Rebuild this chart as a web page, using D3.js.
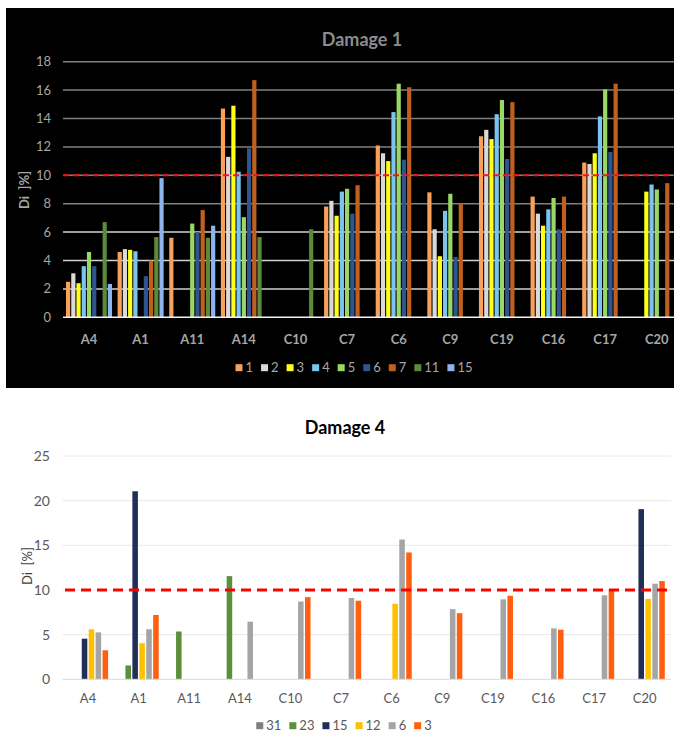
<!DOCTYPE html>
<html>
<head>
<meta charset="utf-8">
<script src="https://cdn.jsdelivr.net/npm/d3@7"></script>
<style>
  body { margin: 0; background: #fff; }
  svg { display: block; font-family: Lato, "Open Sans", sans-serif; }
</style>
</head>
<body>
<svg id="chart" width="674" height="734"></svg>
<script>
// ---------- data ----------
const categories = ["A4", "A1", "A11", "A14", "C10", "C7", "C6", "C9", "C19", "C16", "C17", "C20"];

// Damage 1 (top)
const series1 = ["1", "2", "3", "4", "5", "6", "7", "11", "15"];
const d1_s1  = [2.5, 4.6, 5.6, 14.7, null, 7.8, 12.1, 8.8, 12.75, 8.5, 10.9, null];
const d1_s2  = [3.1, 4.8, null, 11.3, null, 8.2, 11.55, 6.2, 13.2, 7.3, 10.8, null];
const d1_s3  = [2.4, 4.75, null, 14.9, null, 7.15, 11.0, 4.3, 12.55, 6.45, 11.55, 8.85];
const d1_s4  = [3.6, 4.65, null, 10.25, null, 8.85, 14.45, 7.5, 14.3, 7.6, 14.15, 9.35];
const d1_s5  = [4.6, null, 6.6, 7.05, null, 9.05, 16.45, 8.7, 15.3, 8.4, 16.05, 9.0];
const d1_s6  = [3.6, 2.9, 6.0, 11.9, null, 7.3, 11.1, 4.25, 11.15, 6.2, 11.65, null];
const d1_s7  = [null, 4.0, 7.55, 16.7, null, 9.3, 16.2, 8.0, 15.15, 8.5, 16.45, 9.45];
const d1_s11 = [6.7, 5.65, 5.6, 5.65, 6.2, null, null, null, null, null, null, null];
const d1_s15 = [2.35, 9.8, 6.45, null, null, null, null, null, null, null, null, null];
const damage1 = [d1_s1, d1_s2, d1_s3, d1_s4, d1_s5, d1_s6, d1_s7, d1_s11, d1_s15];
const colors1 = ["#f9a15a", "#d9d9d9", "#ffff1a", "#7cc4f0", "#9ad866", "#2e5590", "#c0601f", "#5a8a3a", "#8db4ec"];
const ticks1 = [0, 2, 4, 6, 8, 10, 12, 14, 16, 18];

// Damage 4 (bottom)
const series4 = ["31", "23", "15", "12", "6", "3"];
const d4_s31 = [null, null, null, null, null, null, null, null, null, null, null, null];
const d4_s23 = [null, 1.55, 5.35, 11.55, null, null, null, null, null, null, null, null];
const d4_s15 = [4.55, 21.05, null, null, null, null, null, null, null, null, null, 19.05];
const d4_s12 = [5.6, 4.05, null, null, null, null, 8.45, null, null, null, null, 9.0];
const d4_s6  = [5.25, 5.6, null, 6.45, 8.7, 9.1, 15.65, 7.85, 8.95, 5.7, 9.4, 10.7];
const d4_s3  = [3.25, 7.2, null, null, 9.2, 8.8, 14.2, 7.4, 9.35, 5.55, 10.05, 11.0];
const damage4 = [d4_s31, d4_s23, d4_s15, d4_s12, d4_s6, d4_s3];
const colors4 = ["#7f7f7f", "#5b8f3a", "#1f2f5a", "#ffc000", "#a5a5a5", "#ff5f0f"];
const ticks4 = [0, 5, 10, 15, 20, 25];

const limitValue = 10;

const svg = d3.select("#chart");

// ---------- top chart: Damage 1 ----------
function drawTop(){
    svg.append("rect")
        .attr("x", 6).attr("y", 8)
        .attr("width", 668).attr("height", 380)
        .attr("fill", "#000");

    const y = d3.scaleLinear().domain([0, 18]).range([317.3, 61.7]);
    const x0 = d3.scaleBand().domain(categories).range([63.2, 682.6]);
    const groupW = 46;
    const x1 = d3.scaleBand().domain(series1).range([0, groupW]).paddingInner(0.2);

    // gridlines
    svg.append("g").selectAll("line")
        .data(ticks1.filter(t => t > 0))
        .enter().append("line")
        .attr("x1", 63).attr("x2", 674)
        .attr("y1", t => y(t)).attr("y2", t => y(t))
        .attr("stroke", t => t >= 8 ? "#7f7f7f" : "#d0d0d0")
        .attr("stroke-width", 1.5);

    // y tick labels
    svg.append("g").selectAll("text")
        .data(ticks1)
        .enter().append("text")
        .attr("x", 51).attr("y", t => y(t))
        .attr("dy", "0.35em")
        .attr("text-anchor", "end")
        .attr("fill", "#a6a6a6")
        .attr("font-size", 13)
        .text(t => t);

    // bars
    series1.forEach((s, i) => {
        svg.append("g").selectAll("rect")
            .data(damage1[i].map((v, j) => ({cat: categories[j], v: v})).filter(d => d.v != null))
            .enter().append("rect")
            .attr("x", d => x0(d.cat) + (x0.bandwidth() - groupW) / 2 + x1(s))
            .attr("width", x1.bandwidth())
            .attr("y", d => y(d.v))
            .attr("height", d => y(0) - y(d.v))
            .attr("fill", colors1[i]);
    });

    // baseline
    svg.append("line")
        .attr("x1", 63).attr("x2", 674)
        .attr("y1", y(0)).attr("y2", y(0))
        .attr("stroke", "#f2f2f2").attr("stroke-width", 1.5);

    // 10% limit
    svg.append("line")
        .attr("x1", 63).attr("x2", 674)
        .attr("y1", y(limitValue)).attr("y2", y(limitValue))
        .attr("stroke", "#ff1010").attr("stroke-width", 2)
        .attr("stroke-dasharray", "6,4");

    // category labels
    svg.append("g").selectAll("text")
        .data(categories)
        .enter().append("text")
        .attr("x", c => x0(c) + x0.bandwidth() / 2)
        .attr("y", 339).attr("dy", "0.35em")
        .attr("text-anchor", "middle")
        .attr("fill", "#a6a6a6")
        .attr("font-size", 13).attr("font-weight", "bold")
        .text(c => c);

    svg.append("text")
        .attr("x", 362).attr("y", 46)
        .attr("text-anchor", "middle")
        .attr("fill", "#8c8c8c")
        .attr("font-size", 18).attr("font-weight", "bold")
        .text("Damage 1");

    svg.append("text")
        .attr("transform", "translate(29,190) rotate(-90)")
        .attr("text-anchor", "middle")
        .attr("fill", "#a6a6a6")
        .attr("font-size", 13).attr("font-weight", "bold")
        .attr("xml:space", "preserve")
        .text("Di  ]%]");

    drawLegend(series1, colors1, 354, 367.7, "#a6a6a6", 13, 7);
}

// ---------- bottom chart: Damage 4 ----------
function drawBottom(){
    const y = d3.scaleLinear().domain([0, 25]).range([679.3, 456]);
    const x0 = d3.scaleBand().domain(categories).range([62.7, 670]);
    const groupW = 40.2;
    const x1 = d3.scaleBand().domain(series4).range([0, groupW]).paddingInner(0.2);

    svg.append("g").selectAll("line")
        .data(ticks4.filter(t => t > 0))
        .enter().append("line")
        .attr("x1", 62.7).attr("x2", 671)
        .attr("y1", t => y(t)).attr("y2", t => y(t))
        .attr("stroke", "#e8e8e8")
        .attr("stroke-width", 1);

    svg.append("g").selectAll("text")
        .data(ticks4)
        .enter().append("text")
        .attr("x", 50).attr("y", t => y(t))
        .attr("dy", "0.35em")
        .attr("text-anchor", "end")
        .attr("fill", "#595959")
        .attr("font-size", 14)
        .text(t => t);

    series4.forEach((s, i) => {
        svg.append("g").selectAll("rect")
            .data(damage4[i].map((v, j) => ({cat: categories[j], v: v})).filter(d => d.v != null))
            .enter().append("rect")
            .attr("x", d => x0(d.cat) + (x0.bandwidth() - groupW) / 2 + x1(s))
            .attr("width", x1.bandwidth())
            .attr("y", d => y(d.v))
            .attr("height", d => y(0) - y(d.v))
            .attr("fill", colors4[i]);
    });

    svg.append("line")
        .attr("x1", 62.7).attr("x2", 671)
        .attr("y1", y(0)).attr("y2", y(0))
        .attr("stroke", "#d9d9d9").attr("stroke-width", 1);

    svg.append("line")
        .attr("x1", 65).attr("x2", 671)
        .attr("y1", y(limitValue)).attr("y2", y(limitValue))
        .attr("stroke", "#ff0000").attr("stroke-width", 3)
        .attr("stroke-dasharray", "10,6");

    svg.append("g").selectAll("text")
        .data(categories)
        .enter().append("text")
        .attr("x", c => x0(c) + x0.bandwidth() / 2)
        .attr("y", 698).attr("dy", "0.35em")
        .attr("text-anchor", "middle")
        .attr("fill", "#595959")
        .attr("font-size", 13)
        .text(c => c);

    svg.append("text")
        .attr("x", 345).attr("y", 434)
        .attr("text-anchor", "middle")
        .attr("fill", "#000")
        .attr("font-size", 18).attr("font-weight", "bold")
        .text("Damage 4");

    svg.append("text")
        .attr("transform", "translate(32,566) rotate(-90)")
        .attr("text-anchor", "middle")
        .attr("fill", "#404040")
        .attr("font-size", 13)
        .attr("xml:space", "preserve")
        .text("Di  [%]");

    drawLegend(series4, colors4, 344, 725.7, "#595959", 13, 7);
}

function drawLegend(names, colors, cx, cy, textColor, fontSize, sq){
    const g = svg.append("g");
    let x = 0;
    names.forEach((n, i) => {
        g.append("rect")
            .attr("x", x).attr("y", cy - sq / 2)
            .attr("width", sq).attr("height", sq)
            .attr("fill", colors[i]);
        const t = g.append("text")
            .attr("x", x + sq + 3).attr("y", cy).attr("dy", "0.35em")
            .attr("fill", textColor)
            .attr("font-size", fontSize)
            .text(n);
        x += sq + 3 + t.node().getComputedTextLength() + 8;
    });
    const total = x - 8;
    g.attr("transform", `translate(${cx - total / 2},0)`);
}

drawTop();
drawBottom();
</script>
</body>
</html>
